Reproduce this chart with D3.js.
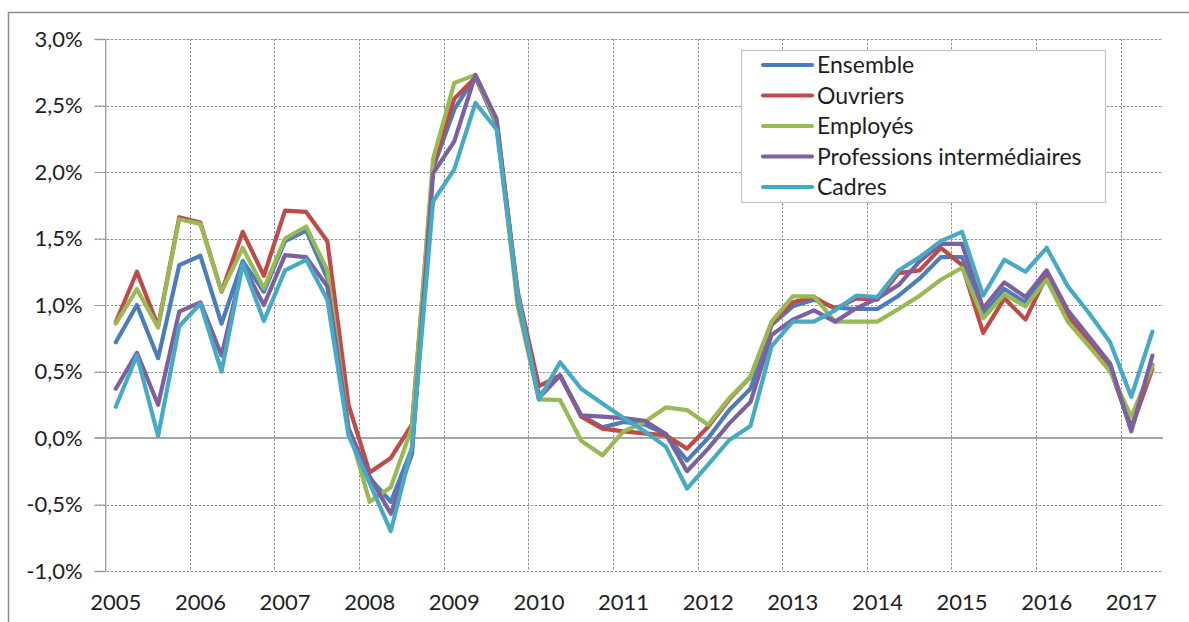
<!DOCTYPE html>
<html>
<head>
<meta charset="utf-8">
<script src="https://cdn.jsdelivr.net/npm/d3@7"></script>
<style>
  html, body { margin: 0; padding: 0; background: #fff; }
  svg { display: block; }
  text { font-family: Lato, "Open Sans", sans-serif; fill: #1e1e1e; }
</style>
</head>
<body>
<svg id="chart" width="1189" height="622"></svg>
<script>
// Quarterly year-over-year change, 2005 Q1 – 2017 Q2 (percent)
const years = ["2005","2006","2007","2008","2009","2010","2011","2012","2013","2014","2015","2016","2017"];
const quarters = [];
years.forEach(y => ["T1","T2","T3","T4"].forEach(q => quarters.push(y + q)));
quarters.splice(50); // series end in 2017 T2

const seriesNames = ["Ensemble", "Ouvriers", "Employés", "Professions intermédiaires", "Cadres"];
const seriesColors = ["#4a7ebb", "#be4b48", "#98b954", "#7d60a0", "#46aac5"];

const ensemble = [0.72,1.00,0.60,1.30,1.37,0.86,1.33,1.10,1.48,1.56,1.20,0.05,-0.30,-0.48,-0.08,2.03,2.47,2.72,2.35,1.08,
  0.32,0.47,0.17,0.08,0.12,0.10,0.03,-0.17,0.00,0.21,0.37,0.85,0.99,1.04,0.98,0.97,0.97,1.07,1.20,1.36,
  1.36,0.93,1.12,1.02,1.25,0.95,0.74,0.55,0.08,0.55];
const ouvriers = [0.87,1.25,0.84,1.66,1.62,1.10,1.55,1.22,1.71,1.70,1.48,0.25,-0.26,-0.15,0.10,2.05,2.55,2.71,2.38,1.10,
  0.39,0.47,0.16,0.07,0.05,0.035,0.02,-0.08,0.085,0.29,0.46,0.86,1.02,1.06,0.97,1.05,1.04,1.24,1.26,1.43,
  1.30,0.79,1.05,0.89,1.22,0.92,0.71,0.52,0.07,0.52];
const employes = [0.86,1.12,0.83,1.645,1.61,1.10,1.43,1.125,1.50,1.59,1.26,0.08,-0.48,-0.37,0.08,2.10,2.67,2.73,2.37,0.99,
  0.29,0.285,-0.02,-0.13,0.05,0.12,0.23,0.21,0.10,0.30,0.46,0.875,1.065,1.065,0.875,0.875,0.875,0.97,1.07,1.19,
  1.28,0.90,1.08,0.99,1.19,0.875,0.69,0.50,0.16,0.54];
const professions = [0.37,0.64,0.25,0.95,1.02,0.62,1.30,1.00,1.375,1.36,1.14,0.07,-0.29,-0.57,-0.12,1.99,2.23,2.73,2.40,1.05,
  0.30,0.47,0.17,0.16,0.15,0.13,0.03,-0.25,-0.08,0.11,0.27,0.775,0.89,0.96,0.875,0.975,1.05,1.15,1.33,1.46,
  1.46,0.975,1.17,1.06,1.26,0.96,0.76,0.56,0.05,0.62];
const cadres = [0.235,0.62,0.015,0.84,1.01,0.50,1.31,0.88,1.26,1.34,1.04,0.02,-0.34,-0.70,-0.07,1.78,2.02,2.52,2.32,1.08,
  0.29,0.57,0.37,0.26,0.15,0.05,-0.065,-0.38,-0.20,-0.015,0.09,0.69,0.875,0.875,0.96,1.07,1.06,1.26,1.36,1.48,
  1.55,1.07,1.34,1.25,1.43,1.14,0.94,0.72,0.31,0.80];

const yTicks = [-1.0,-0.5,0.0,0.5,1.0,1.5,2.0,2.5,3.0];

const seriesValues = [ensemble, ouvriers, employes, professions, cadres];

// ---- layout ----
const svg = d3.select("#chart");
const plot = { left: 105.2, right: 1163, top: 39, bottom: 571 };

// chart frame
svg.append("rect")
  .attr("x", 8.5).attr("y", 12.5)
  .attr("width", 1400).attr("height", 800)
  .attr("fill", "none").attr("stroke", "#8a8a8a").attr("stroke-width", 1.5);

const x = d3.scaleBand().domain(quarters).range([plot.left, plot.right]).padding(0);
const xc = q => x(q) + x.bandwidth() / 2;
const y = d3.scaleLinear().domain([-1, 3]).range([plot.bottom, plot.top]);

const fr = d3.formatLocale({ decimal: ",", thousands: " ", grouping: [3], currency: ["", " €"], minus: "-" });
const fmt = v => fr.format(".1f")(v) + "%";

const grid = svg.append("g");
// horizontal gridlines (dashed), zero line drawn solid below
grid.selectAll("line.h").data(yTicks.filter(v => v !== 0)).join("line")
  .attr("x1", plot.left - 10.5).attr("x2", plot.right)
  .attr("y1", d => Math.round(y(d)) + 0.5).attr("y2", d => Math.round(y(d)) + 0.5)
  .attr("stroke", "#8f8f8f").attr("stroke-width", 1).attr("stroke-dasharray", "2.5,1.5");

// vertical gridlines every four quarters
const yearStarts = quarters.filter((q, i) => i % 4 === 0 && i > 0);
grid.selectAll("line.v").data(yearStarts).join("line")
  .attr("x1", d => Math.round(x(d)) + 0.5).attr("x2", d => Math.round(x(d)) + 0.5)
  .attr("y1", plot.top).attr("y2", plot.bottom)
  .attr("stroke", "#8f8f8f").attr("stroke-width", 1).attr("stroke-dasharray", "2.5,1.5");

// y axis: ticks and labels
const yAxis = d3.axisLeft(y).tickValues(yTicks).tickFormat(fmt).tickSize(10.5).tickPadding(12);
const gy = svg.append("g").attr("transform", `translate(${plot.left},0)`).call(yAxis);
gy.select(".domain").attr("stroke", "#9a9a9a").attr("stroke-width", 1.3);
gy.selectAll(".tick line").attr("stroke", "#9a9a9a");
gy.selectAll(".tick text").style("font-size", "22px").attr("fill", "#1e1e1e");

// zero line
svg.append("line")
  .attr("x1", plot.left - 10.5).attr("x2", plot.right)
  .attr("y1", y(0)).attr("y2", y(0))
  .attr("stroke", "#a6a6a6").attr("stroke-width", 1.8);

// x axis labels at the bottom of the plot
const xAxis = d3.axisBottom(x)
  .tickValues(quarters.filter((q, i) => i % 4 === 0))
  .tickFormat(q => q.slice(0, 4))
  .tickSize(0).tickPadding(23);
const gx = svg.append("g").attr("transform", `translate(0,${plot.bottom})`).call(xAxis);
gx.select(".domain").remove();
gx.selectAll(".tick text").style("font-size", "22px").attr("fill", "#1e1e1e");

// series lines
const line = d3.line().x((d, i) => xc(quarters[i])).y(d => y(d)).curve(d3.curveLinear);
svg.append("g").selectAll("path").data(seriesValues).join("path")
  .attr("d", d => line(d))
  .attr("fill", "none")
  .attr("stroke", (d, i) => seriesColors[i])
  .attr("stroke-width", 4.2)
  .attr("stroke-linejoin", "round")
  .attr("stroke-linecap", "round");

// legend
const lg = svg.append("g");
lg.append("rect")
  .attr("x", 741.5).attr("y", 50.5).attr("width", 364).attr("height", 152)
  .attr("fill", "#fff").attr("stroke", "#c4c4c4").attr("stroke-width", 1.2);
const rows = lg.selectAll("g.row").data(seriesNames).join("g")
  .attr("transform", (d, i) => `translate(0,${65 + i * 30.5})`);
rows.append("line")
  .attr("x1", 763).attr("x2", 812).attr("y1", 0).attr("y2", 0)
  .attr("stroke", (d, i) => seriesColors[i]).attr("stroke-width", 4.2).attr("stroke-linecap", "round");
rows.append("text")
  .attr("x", 817).attr("y", 0).attr("dy", "0.35em")
  .style("font-size", "23px")
  .text(d => d);
</script>
</body>
</html>
